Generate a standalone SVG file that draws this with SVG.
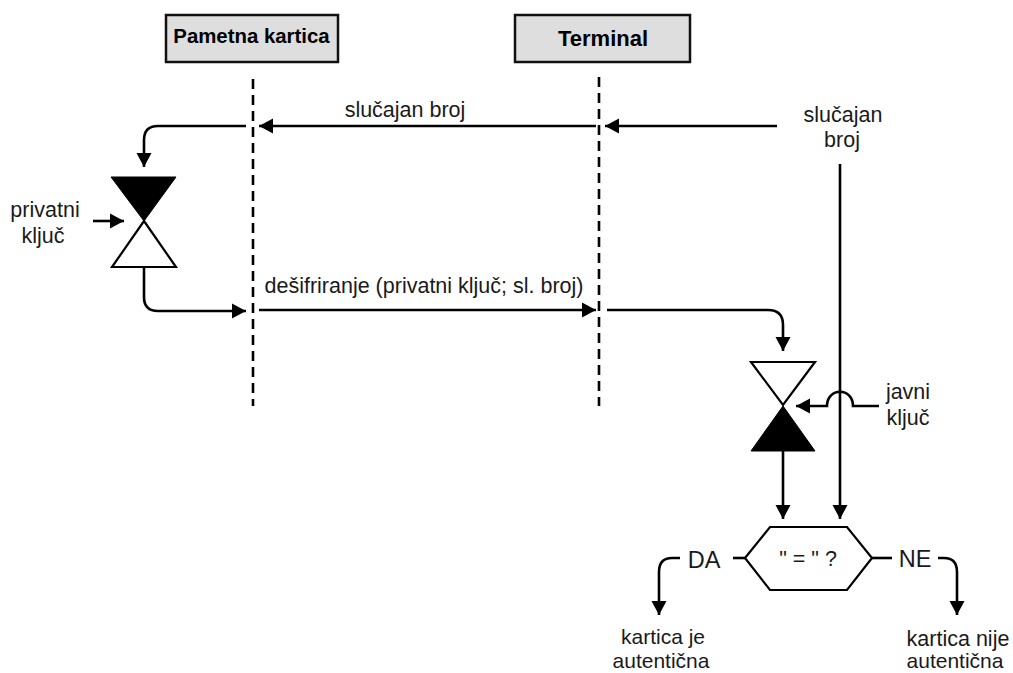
<svg xmlns="http://www.w3.org/2000/svg" width="1013" height="673" viewBox="0 0 1013 673">
<style>
text{font-family:"Liberation Sans",Arial,sans-serif;font-size:21.5px;fill:#1a1a1a;text-anchor:middle}
.h{font-weight:bold;font-size:20.4px;fill:#000}
.s{font-size:21px}
.box{fill:#dedede;stroke:#111;stroke-width:2.5}
.l{fill:none;stroke:#000;stroke-width:2.6}
.life{fill:none;stroke:#000;stroke-width:2.6;stroke-dasharray:10 6}
.w{fill:#fff;stroke:#000;stroke-width:2.2}
.b{fill:#000;stroke:#000;stroke-width:1}
</style>
<defs><marker id="a" markerUnits="userSpaceOnUse" markerWidth="15" markerHeight="16" refX="14" refY="8" orient="auto"><path d="M0 0.5L14 8L0 15.5Z" fill="#000"/></marker></defs>
<rect width="1013" height="673" fill="#fff"/>
<g id="lifelines">
<path class="life" d="M253 79V406"/>
<path class="life" d="M599 77V406"/>
</g>
<g id="connectors">
<path class="l" marker-end="url(#a)" d="M246 126H158Q144 126 144 140V167"/>
<path class="l" marker-end="url(#a)" d="M596 126H259"/>
<path class="l" marker-end="url(#a)" d="M777 126H605"/>
<path class="l" marker-end="url(#a)" d="M93 221H124"/>
<path class="l" marker-end="url(#a)" d="M144 267V297Q144 311 158 311H246"/>
<path class="l" marker-end="url(#a)" d="M259 310H596"/>
<path class="l" marker-end="url(#a)" d="M607 310H768Q783 310 783 325V351"/>
<path class="l" marker-end="url(#a)" d="M879 406H853C853 387 827 387 827 406H796"/>
<path class="l" marker-end="url(#a)" d="M840 164V519"/>
<path class="l" marker-end="url(#a)" d="M783 451V519"/>
<path class="l" marker-end="url(#a)" d="M680 558H672Q659 558 659 572V615"/>
<path class="l" d="M733 558H745"/>
<path class="l" d="M872 558H892"/>
<path class="l" marker-end="url(#a)" d="M938 558H944Q957 558 957 572V615"/>
</g>
<g id="node-kartica"><rect class="box" x="166" y="15" width="172" height="47"/><text class="h" x="251.500" y="43">Pametna kartica</text></g>
<g id="node-terminal"><rect class="box" x="515" y="15" width="175" height="47"/><text class="h" x="603" y="46" style="font-size:22px">Terminal</text></g>
<g id="node-dekript1"><path class="b" d="M111 177H176L144 221Z"/><path class="w" d="M144 221L176 267H112Z"/></g>
<g id="node-dekript2"><path class="w" d="M751 362H815L783 405Z"/><path class="b" d="M783 406L815 451H751Z"/></g>
<g id="node-compare"><path class="w" d="M745 558L770 527H847L872 558L847 590H770Z"/><text x="808" y="566">" = " ?</text></g>
<g id="labels">
<text x="405" y="117">slučajan broj</text>
<text x="843" y="122">slučajan</text><text x="842" y="147">broj</text>
<text x="45" y="217">privatni</text><text x="43" y="243">ključ</text>
<text x="424" y="293">dešifriranje (privatni ključ; sl. broj)</text>
<text x="908" y="399">javni</text><text x="908" y="425">ključ</text>
<text x="704" y="568" style="font-size:23.500px">DA</text>
<text x="915" y="567" style="font-size:23.500px">NE</text>
<text class="s" x="663" y="644">kartica je</text><text class="s" x="661" y="668">autentična</text>
<text x="958" y="646">kartica nije</text><text class="s" x="955" y="668">autentična</text>
</g>
</svg>
